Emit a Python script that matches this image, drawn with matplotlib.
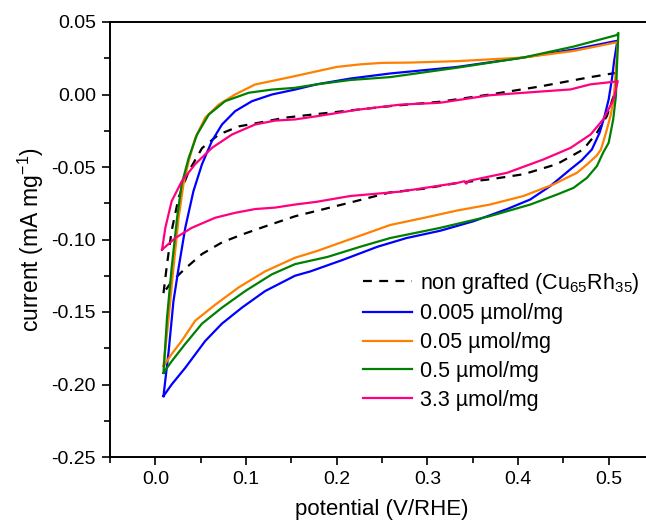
import numpy as np
import matplotlib
matplotlib.use("Agg")
import matplotlib.pyplot as plt

plt.rcParams["font.family"] = ["Liberation Sans", "DejaVu Sans"]
plt.rcParams["mathtext.fontset"] = "custom"
plt.rcParams["mathtext.rm"] = "Liberation Sans"
plt.rcParams["mathtext.it"] = "Liberation Sans"

# ---- data: each loop = upper (anodic) branch 0 -> 0.51, then lower branch back ----
x_ng = [0.009, 0.0129, 0.018, 0.0257, 0.0368, 0.0515, 0.070, 0.092, 0.114, 0.143, 0.178, 0.215,
        0.259, 0.314, 0.369, 0.424, 0.480, 0.509,
        0.5095, 0.5055, 0.498, 0.487, 0.472, 0.443, 0.406, 0.369, 0.333, 0.296, 0.259, 0.215,
        0.154, 0.121, 0.0955, 0.0735, 0.0515, 0.033, 0.018, 0.009]
y_ng = [-0.137, -0.117, -0.094, -0.071, -0.053, -0.037, -0.0276, -0.022, -0.0195, -0.016, -0.0135, -0.011,
        -0.008, -0.005, 0.000, 0.0055, 0.012, 0.015,
        0.0138, -0.0011, -0.0149, -0.0264, -0.0379, -0.048, -0.055, -0.0585, -0.061, -0.065, -0.0675, -0.0745,
        -0.084, -0.091, -0.0966, -0.102, -0.110, -0.120, -0.129, -0.137]

x_005 = [0.009, 0.0147, 0.020, 0.0257, 0.033, 0.042, 0.0515, 0.0625, 0.0735, 0.088, 0.1066, 0.1286,
         0.154, 0.178, 0.215, 0.259, 0.333, 0.406, 0.461, 0.509,
         0.5095, 0.506, 0.5035, 0.500, 0.4955, 0.490, 0.4815, 0.470, 0.4576, 0.4355, 0.4135, 0.388,
         0.351, 0.314, 0.277, 0.245, 0.207, 0.171, 0.154, 0.121, 0.0955, 0.0735, 0.055, 0.033,
         0.018, 0.009]
y_005 = [-0.208, -0.177, -0.1425, -0.1195, -0.092, -0.0667, -0.048, -0.032, -0.0207, -0.0115, -0.0046, 0.000,
         0.0034, 0.007, 0.011, 0.0145, 0.019, 0.0255, 0.031, 0.037,
         0.0368, 0.023, 0.0103, -0.0034, -0.0149, -0.0264, -0.0379, -0.0455, -0.0517, -0.0632, -0.0724, -0.079,
         -0.0874, -0.094, -0.099, -0.105, -0.114, -0.122, -0.125, -0.1356, -0.147, -0.158, -0.170, -0.1885,
         -0.200, -0.208]

x_05 = [0.009, 0.0147, 0.020, 0.0257, 0.031, 0.0368, 0.044, 0.055, 0.070, 0.088, 0.110, 0.149,
        0.178, 0.200, 0.226, 0.250, 0.280, 0.333, 0.406, 0.461, 0.509,
        0.510, 0.508, 0.5055, 0.502, 0.497, 0.4915, 0.487, 0.476, 0.465, 0.450, 0.4392, 0.406,
        0.369, 0.333, 0.296, 0.259, 0.223, 0.178, 0.154, 0.121, 0.092, 0.066, 0.044, 0.029,
        0.018, 0.009]
y_05 = [-0.1874, -0.154, -0.1195, -0.085, -0.062, -0.046, -0.030, -0.016, -0.0069, 0.000, 0.0069, 0.012,
        0.016, 0.019, 0.0208, 0.0218, 0.022, 0.023, 0.0255, 0.030, 0.036,
        0.0356, 0.0172, -0.0034, -0.0149, -0.0264, -0.0379, -0.042, -0.0483, -0.054, -0.0586, -0.062, -0.070,
        -0.0759, -0.080, -0.0851, -0.090, -0.098, -0.108, -0.1126, -0.122, -0.133, -0.145, -0.156, -0.170,
        -0.179, -0.1874]

x_5 = [0.009, 0.0129, 0.018, 0.024, 0.029, 0.0368, 0.046, 0.059, 0.077, 0.103, 0.1286, 0.154,
       0.178, 0.215, 0.259, 0.333, 0.406, 0.461, 0.509, 0.5107,
       0.509, 0.508, 0.505, 0.500, 0.494, 0.487, 0.476, 0.4612, 0.443, 0.4135, 0.369, 0.314,
       0.259, 0.226, 0.190, 0.154, 0.1286, 0.099, 0.0735, 0.0515, 0.033, 0.018, 0.009]
y_5 = [-0.192, -0.154, -0.1195, -0.085, -0.062, -0.0437, -0.0276, -0.0138, -0.0046, 0.0012, 0.0034, 0.0046,
       0.007, 0.010, 0.012, 0.0185, 0.0255, 0.033, 0.041, 0.0425,
       0.0172, -0.0011, -0.0172, -0.0333, -0.040, -0.0494, -0.0575, -0.0644, -0.069, -0.0759, -0.0839, -0.092,
       -0.099, -0.105, -0.112, -0.117, -0.124, -0.1356, -0.147, -0.158, -0.172, -0.184, -0.192]

x_33 = [0.0074, 0.011, 0.018, 0.029, 0.044, 0.0625, 0.0845, 0.110, 0.132, 0.154, 0.178, 0.223,
        0.270, 0.314, 0.369, 0.424, 0.458, 0.480, 0.509,
        0.510, 0.5055, 0.494, 0.480, 0.458, 0.428, 0.388, 0.346, 0.343, 0.341, 0.333, 0.270, 0.215,
        0.178, 0.154, 0.132, 0.110, 0.088, 0.066, 0.040, 0.022, 0.0074]
y_33 = [-0.107, -0.092, -0.0736, -0.060, -0.048, -0.0368, -0.0276, -0.0207, -0.018, -0.0172, -0.015, -0.0105,
        -0.007, -0.0057, -0.0005, 0.002, 0.0035, 0.007, 0.009,
        0.0092, -0.0034, -0.0172, -0.0276, -0.0368, -0.0448, -0.054, -0.0595, -0.0615, -0.0598, -0.061, -0.067,
        -0.070, -0.074, -0.0759, -0.078, -0.079, -0.0816, -0.085, -0.092, -0.099, -0.107]

labels = ["non grafted (Cu$_{65}$Rh$_{35}$)", "0.005 \u00b5mol/mg", "0.05 \u00b5mol/mg",
          "0.5 \u00b5mol/mg", "3.3 \u00b5mol/mg"]
colors = ["black", "#0000FF", "#FF8000", "#008000", "#FF0080"]

# ---- figure ----
fig = plt.figure(figsize=(6.46, 5.25), dpi=100)
ax = fig.add_axes([110 / 646, 1 - 457 / 525, 544 / 646, 435 / 525])

ax.plot(x_ng, y_ng, color=colors[0], lw=1.6, dashes=(4, 3.3), label=labels[0])
ax.plot(x_005, y_005, color=colors[1], lw=1.6, label=labels[1])
ax.plot(x_05, y_05, color=colors[2], lw=1.6, label=labels[2])
ax.plot(x_5, y_5, color=colors[3], lw=1.6, label=labels[3])
ax.plot(x_33, y_33, color=colors[4], lw=1.6, label=labels[4])

ax.set_xlim(-0.05, 0.55)
ax.set_ylim(-0.25, 0.05)
ax.set_xticks([0.0, 0.1, 0.2, 0.3, 0.4, 0.5])
ax.set_xticks(np.arange(-0.05, 0.56, 0.05), minor=True)
ax.set_yticks([-0.25, -0.20, -0.15, -0.10, -0.05, 0.00, 0.05])
ax.set_yticks(np.arange(-0.25, 0.051, 0.025), minor=True)
ax.set_xticklabels(["0.0", "0.1", "0.2", "0.3", "0.4", "0.5"])
ax.set_yticklabels(["-0.25", "-0.20", "-0.15", "-0.10", "-0.05", "0.00", "0.05"])
ax.tick_params(which="major", direction="out", length=6, width=1.2, labelsize=14,
               top=False, right=False, pad=4)
ax.tick_params(which="minor", direction="out", length=4, width=1.2, top=False, right=False)
for s in ax.spines.values():
    s.set_linewidth(1.4)

ax.set_xlabel("potential (V/RHE)", fontsize=16, labelpad=8)
ax.set_ylabel("current (mA mg$^{-1}$)", fontsize=16.5, labelpad=4)

ax.legend(loc="upper left", bbox_to_anchor=(354 / 646, 1 - 262 / 525),
          bbox_transform=fig.transFigure, frameon=False, fontsize=15.5,
          handlelength=2.3, handletextpad=0.35, labelspacing=0.36, borderaxespad=0)

fig.savefig("out.png", dpi=100)
